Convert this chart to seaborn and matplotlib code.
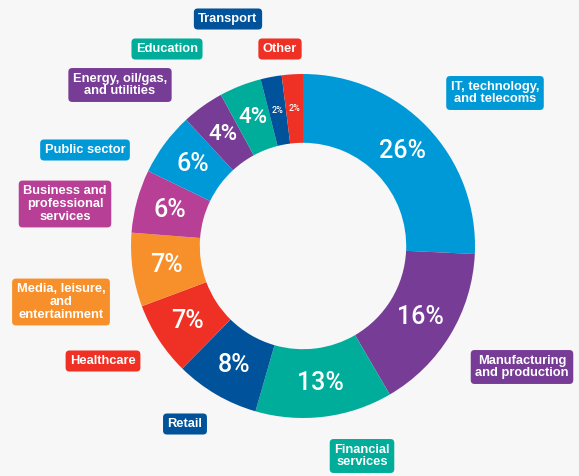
import matplotlib.pyplot as plt
import seaborn as sns
import numpy as np

sns.set_theme(style="white")

# data
sectors = ["IT, technology,\nand telecoms", "Manufacturing\nand production", "Financial\nservices",
           "Retail", "Healthcare", "Media, leisure,\nand\nentertainment", "Business and\nprofessional\nservices",
           "Public sector", "Energy, oil/gas,\nand utilities", "Education", "Transport", "Other"]
shares = [26, 16, 13, 8, 7, 7, 6, 6, 4, 4, 2, 2]
colors = ["#0099d8", "#773d96", "#00ad9a", "#00529b", "#ee3124", "#f7902a", "#b83f96",
          "#0099d8", "#773d96", "#00ad9a", "#00529b", "#ee3124"]

# label box positions (pixels, from top-left)
label_pos = [(495, 93), (522, 367), (362, 456), (185, 424), (103, 361), (61, 302), (65, 204),
             (85, 150), (120, 85), (167, 49), (228, 19), (280, 49)]

W, H = 579, 476
bg = "#f7f7f7"
fig = plt.figure(figsize=(W / 100, H / 100), dpi=100, facecolor=bg)
ax = fig.add_axes([0, 0, 1, 1])
ax.set_facecolor(bg)

cx, cy, R = 303, H - 246, 172
wedges, _ = ax.pie(shares, colors=colors, startangle=90, counterclock=False,
                   center=(cx, cy), radius=R, frame=True,
                   wedgeprops=dict(width=R * 0.4, edgecolor="none"))
ax.set_xlim(0, W)
ax.set_ylim(0, H)
ax.set_aspect("equal")
ax.axis("off")

pct_font = ["Roboto", "Liberation Sans", "DejaVu Sans"]
for w, v in zip(wedges, shares):
    ang = np.deg2rad((w.theta1 + w.theta2) / 2)
    r = R * 0.8
    x, y = cx + r * np.cos(ang), cy + r * np.sin(ang)
    if v <= 2:
        fs = 6.5
    elif v <= 4:
        fs = 16
    else:
        fs = 18
    ax.text(x, y, f"{v}%", ha="center", va="center", color="white",
            fontsize=fs, family=pct_font, fontweight="medium")

for name, c, (px, py) in zip(sectors, colors, label_pos):
    ax.text(px, H - py, name, ha="center", va="center", color="white",
            fontsize=9.3, family=["Liberation Sans", "DejaVu Sans"], fontweight="bold",
            linespacing=1.1,
            bbox=dict(boxstyle="round,pad=0.35,rounding_size=0.3", fc=c, ec="none"))

fig.savefig("out.png", dpi=100, facecolor=bg)
